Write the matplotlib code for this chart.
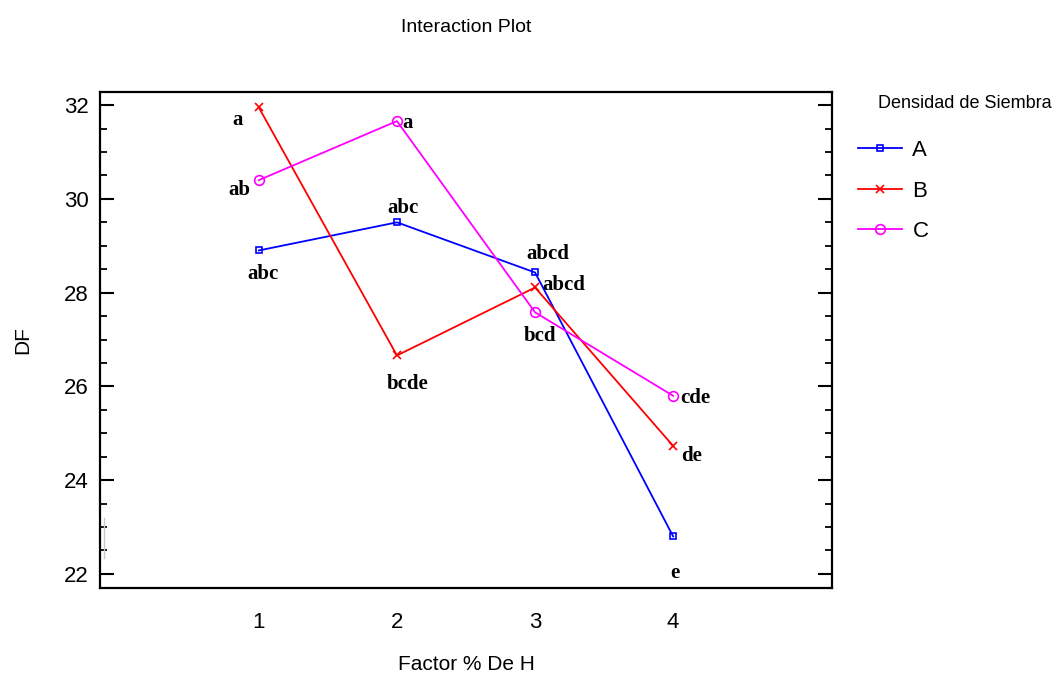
import matplotlib
matplotlib.use("Agg")
import matplotlib.pyplot as plt
from matplotlib.ticker import MultipleLocator

plt.rcParams["font.family"] = ["Liberation Sans", "DejaVu Sans"]

levels = [1, 2, 3, 4]
series_names = ["A", "B", "C"]
df_A = [28.9, 29.5, 28.43, 22.8]
df_B = [31.95, 26.66, 28.11, 24.73]
df_C = [30.4, 31.66, 27.58, 25.8]
letters_A = ["abc", "abc", "abcd", "e"]
letters_B = ["a", "bcde", "abcd", "de"]
letters_C = ["ab", "a", "bcd", "cde"]

colors = {"A": "#0000ff", "B": "#ff0000", "C": "#ff00ff"}
markers = {"A": "s", "B": "x", "C": "o"}
msize = {"A": 4, "B": 6, "C": 7}
# label offsets in pixels (dx, dy, ha)
offs = {
    "A": [(4, -24, "center"), (6, 14, "center"), (13, 18, "center"), (2, -37, "center")],
    "B": [(-21, -13, "center"), (11, -29, "center"), (7, 2, "left"), (8, -10, "left")],
    "C": [(-19, -10, "center"), (5, -2, "left"), (5, -24, "center"), (7, -2, "left")],
}

fig = plt.figure(figsize=(10.63, 6.78), dpi=100)
ax = fig.add_axes([100 / 1063, 1 - 588 / 678, 732 / 1063, 496 / 678])

data = {"A": df_A, "B": df_B, "C": df_C}
lets = {"A": letters_A, "B": letters_B, "C": letters_C}
for s in series_names:
    ax.plot(levels, data[s], color=colors[s], lw=1.3, marker=markers[s],
            markersize=msize[s], markerfacecolor="none", markeredgecolor=colors[s],
            markeredgewidth=1.2, label=s)
    for i, (x, y) in enumerate(zip(levels, data[s])):
        dx, dy, ha = offs[s][i]
        ax.annotate(lets[s][i], (x, y), xytext=(dx, dy), textcoords="offset pixels",
                    ha=ha, va="center", fontsize=15, fontweight="bold",
                    family=["Liberation Serif", "DejaVu Serif"])

# faint artifact line near left axis
ax.plot([-0.12, -0.12], [22.35, 23.2], color="#c8c8c8", lw=1)

ax.set_xlim(-0.15, 5.15)
ax.set_ylim(21.7, 32.28)
ax.set_xticks(levels)
ax.yaxis.set_major_locator(MultipleLocator(2))
ax.yaxis.set_minor_locator(MultipleLocator(0.5))
ax.tick_params(axis="y", which="major", direction="in", length=10, width=1.5,
               right=True, labelsize=16, pad=8)
ax.tick_params(axis="y", which="minor", direction="in", length=5, width=1.3, right=True)
ax.tick_params(axis="x", length=0, labelsize=16, pad=17)
for sp in ax.spines.values():
    sp.set_linewidth(1.6)

ax.set_xlabel("Factor % De H", fontsize=15, labelpad=16)
ax.set_ylabel("DF", fontsize=15, labelpad=23)
fig.text(466 / 1063, 1 - 28 / 678, "Interaction Plot", ha="center", va="center", fontsize=14)
fig.text(878 / 1063, 1 - 104 / 678, "Densidad de Siembra", ha="left", va="center", fontsize=13)

leg = fig.legend(loc="upper left", bbox_to_anchor=(858 / 1063, 1 - 140 / 678), frameon=False,
                 fontsize=16, handlelength=2.0, handletextpad=0.45, labelspacing=0.88,
                 borderpad=0, borderaxespad=0)

fig.savefig("out.png", dpi=100)
